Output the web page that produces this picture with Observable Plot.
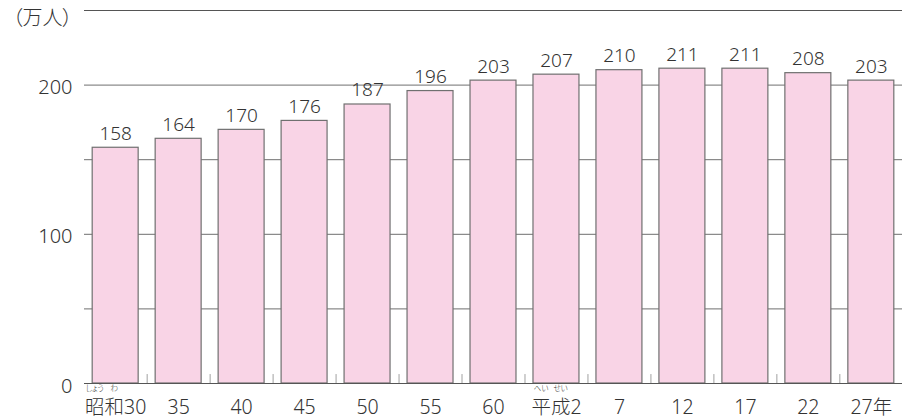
<!DOCTYPE html>
<html>
<head>
<meta charset="utf-8">
<script src="https://cdn.jsdelivr.net/npm/d3@7"></script>
<script src="https://cdn.jsdelivr.net/npm/@observablehq/plot@0.6"></script>
<style>
  html, body { margin: 0; padding: 0; background: #fff; }
  svg { display: block; }
  svg text { font-feature-settings: "palt"; }
</style>
</head>
<body>
<div id="chart"></div>
<script>
const categories = ["昭和30", "35", "40", "45", "50", "55", "60", "平成2", "7", "12", "17", "22", "27年"];
const values = [158, 164, 170, 176, 187, 196, 203, 207, 210, 211, 211, 208, 203];
const yTicks = [0, 100, 200];
const gridValues = [50, 100, 150, 200];
const rubyItems = [
  { category: "昭和30", base: "昭和", rest: "30", parts: ["しょう", "わ"] },
  { category: "平成2", base: "平成", rest: "2", parts: ["へい", "せい"] }
];
const unitLabel = "（万人）";

const data = categories.map((c, i) => ({ category: c, value: values[i] }));

const W = 902, H = 419;
const mL = 84, mR = 0, mT = 10, mB = 36;
const pInner = 0.27, pOuter = 0.13;
const step = (W - mL - mR) / (categories.length - pInner + 2 * pOuter);
const FONT = "'Noto Sans', 'Noto Sans CJK JP', sans-serif";
const WEIGHT = 300;
const textColor = "#333";
const LABEL_SIZE = 19.5;

// measure text for ruby placement
const ctx = document.createElement("canvas").getContext("2d");
function tw(s, size) { ctx.font = `${WEIGHT} ${size}px ${FONT}`; return ctx.measureText(s).width; }
const rubyMarks = [];
rubyItems.forEach(r => {
  const total = tw(r.base + r.rest, LABEL_SIZE);
  let left = -total / 2;
  [...r.base].forEach((ch, i) => {
    const w = tw(ch, LABEL_SIZE);
    const dx = left + w / 2;
    left += w;
    rubyMarks.push(Plot.text([r], { x: "category", text: () => r.parts[i], frameAnchor: "bottom", lineAnchor: "middle", dy: 5, dx, fontSize: 7.5, fill: textColor, fontWeight: WEIGHT }));
  });
});

const chart = Plot.plot({
  width: W,
  height: H,
  marginLeft: mL,
  marginRight: mR,
  marginTop: mT,
  marginBottom: mB,
  style: { fontFamily: FONT, background: "#fff" },
  x: { domain: categories, paddingInner: pInner, paddingOuter: pOuter, round: false, axis: null },
  y: { domain: [0, 250], axis: null },
  marks: [
    Plot.ruleY(gridValues, { stroke: "#6f6f6f", strokeWidth: 1 }),
    Plot.ruleX(categories.slice(1), { x: d => d, y1: 0, y2: 6, dx: -step / 2, stroke: "#a0a0a0", strokeWidth: 1 }),
    Plot.barY(data, { x: "category", y: "value", fill: "#f9d4e6", stroke: "#707070", strokeWidth: 1.2 }),
    Plot.text(data, { x: "category", y: "value", text: d => String(d.value), lineAnchor: "bottom", dy: -8, fontSize: 19, fill: textColor, fontWeight: WEIGHT }),
    Plot.ruleY([0], { stroke: "#555", strokeWidth: 1.2 }),
    Plot.ruleY([250], { stroke: "#555", strokeWidth: 1.2 }),
    Plot.ruleX([0], { x: () => 0, frameAnchor: "left", stroke: "#555", strokeWidth: 1.2 }),
    Plot.text(yTicks, { y: d => d, text: d => String(d), frameAnchor: "left", textAnchor: "end", dx: -12, lineAnchor: "bottom", dy: 9, fontSize: 20, fill: textColor, fontWeight: WEIGHT }),
    Plot.text(categories, { x: d => d, text: d => d, frameAnchor: "bottom", lineAnchor: "bottom", dy: 30, fontSize: LABEL_SIZE, fill: textColor, fontWeight: WEIGHT }),
    ...rubyMarks,
    Plot.text([unitLabel], { frameAnchor: "top-left", textAnchor: "end", dx: -12, lineAnchor: "middle", dy: 8, fontSize: 20, fill: textColor, fontWeight: WEIGHT })
  ]
});
document.getElementById("chart").appendChild(chart);
</script>
</body>
</html>
